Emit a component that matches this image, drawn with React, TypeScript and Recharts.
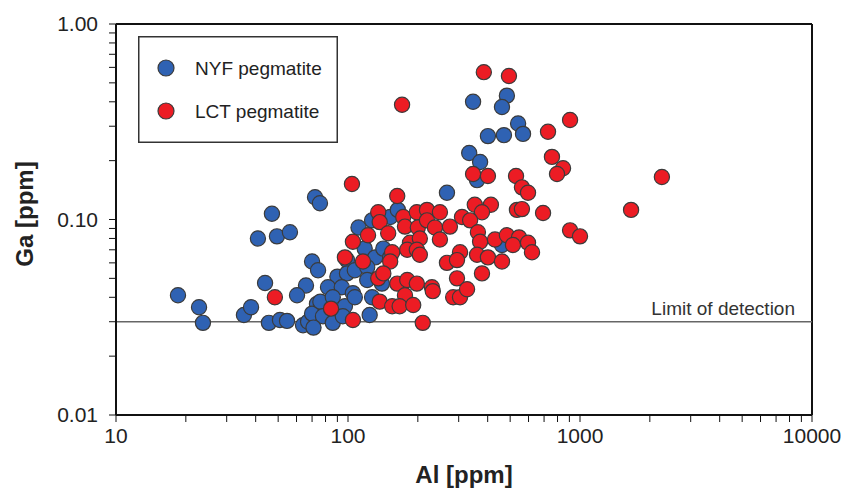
import React from "react";
import {
  ScatterChart,
  Scatter,
  XAxis,
  YAxis,
  ReferenceLine,
  Legend,
} from "recharts";

// Al [ppm] vs Ga [ppm]
const nyfAl = [
  18.5, 22.8, 23.7, 35.6, 38.2, 45.6, 50.9, 54.6, 43.9, 47.0, 40.9, 49.4, 56.2,
  72.1, 75.7, 70.0, 74.3, 65.9, 60.3, 64.0, 67.3, 73.5, 70.0, 111, 127, 152,
  164, 118, 131, 142, 152, 99, 90, 99, 107, 121, 82, 94, 105, 121, 127, 76, 86,
  97, 107, 78, 86, 95, 124, 71, 140, 267, 346, 484, 461, 541, 568, 401, 470,
  333, 371, 360, 461,
];
const nyfGa = [
  0.041, 0.0356, 0.0296, 0.0325, 0.0356, 0.0296, 0.0306, 0.0303, 0.0473, 0.107,
  0.08, 0.082, 0.086, 0.13, 0.121, 0.061, 0.055, 0.046, 0.041, 0.0288, 0.03,
  0.037, 0.033, 0.091, 0.099, 0.103, 0.112, 0.071, 0.064, 0.071, 0.064, 0.062,
  0.051, 0.053, 0.055, 0.057, 0.045, 0.045, 0.042, 0.049, 0.04, 0.038, 0.04,
  0.036, 0.04, 0.032, 0.0296, 0.032, 0.0325, 0.028, 0.047, 0.137, 0.4, 0.43,
  0.376, 0.31, 0.274, 0.267, 0.27, 0.219, 0.197, 0.159, 0.074,
];

const lctAl = [
  48.4, 104, 163, 135, 137, 173, 198, 219, 249, 310, 122, 149, 176, 200, 219,
  237, 275, 105, 185, 204, 249, 97, 155, 180, 198, 204, 304, 116, 152, 267, 295,
  135, 142, 163, 180, 198, 295, 230, 232, 176, 137, 155, 167, 191, 284, 304,
  84.5, 105, 210, 326, 171, 385, 494, 906, 728, 757, 845, 796, 346, 401, 530,
  562, 597, 352, 413, 378, 535, 562, 693, 906, 1000, 336, 363, 371, 430, 484,
  546, 514, 597, 621, 360, 401, 461, 378, 2254, 1660,
];
const lctGa = [
  0.04, 0.152, 0.132, 0.109, 0.097, 0.103, 0.109, 0.112, 0.109, 0.103, 0.083,
  0.085, 0.092, 0.091, 0.099, 0.091, 0.092, 0.077, 0.076, 0.08, 0.079, 0.064,
  0.068, 0.07, 0.07, 0.066, 0.068, 0.061, 0.061, 0.06, 0.062, 0.05, 0.053,
  0.047, 0.049, 0.047, 0.05, 0.045, 0.043, 0.041, 0.038, 0.036, 0.036, 0.0365,
  0.04, 0.04, 0.035, 0.0306, 0.0296, 0.044, 0.386, 0.567, 0.542, 0.323, 0.281,
  0.209, 0.183, 0.171, 0.171, 0.167, 0.167, 0.146, 0.137, 0.119, 0.119, 0.109,
  0.112, 0.113, 0.108, 0.088, 0.082, 0.099, 0.086, 0.077, 0.079, 0.083, 0.081,
  0.074, 0.076, 0.068, 0.066, 0.064, 0.061, 0.053, 0.165, 0.112,
];

const seriesNames = ["NYF pegmatite", "LCT pegmatite"];

const xTicks = [
  10, 20, 30, 40, 50, 60, 70, 80, 90, 100, 200, 300, 400, 500, 600, 700, 800,
  900, 1000, 2000, 3000, 4000, 5000, 6000, 7000, 8000, 9000, 10000,
];
const yTicks = [
  0.01, 0.02, 0.03, 0.04, 0.05, 0.06, 0.07, 0.08, 0.09, 0.1, 0.2, 0.3, 0.4, 0.5,
  0.6, 0.7, 0.8, 0.9, 1,
];
const xMajor = [10, 100, 1000, 10000];
const yMajor = [0.01, 0.1, 1];
const detectionLimit = 0.03;

const nyfData = nyfAl.map((al, i) => ({ al, ga: nyfGa[i] }));
const lctData = lctAl.map((al, i) => ({ al, ga: lctGa[i] }));

const BLUE = "#2f62b3";
const RED = "#ec1c24";
const FONT = "'Liberation Sans', Arial, sans-serif";

const dot = (fill: string) => (props: any) => (
  <circle
    cx={props.cx}
    cy={props.cy}
    r={7.6}
    fill={fill}
    stroke="#3b3b3b"
    strokeWidth={1.2}
  />
);

const LegendBox = (props: any) => {
  // keep series order (recharts sorts the payload by name)
  const items = [...(props.payload || [])].sort(
    (a: any, b: any) => seriesNames.indexOf(a.value) - seriesNames.indexOf(b.value)
  );
  return (
    <svg width={200} height={107} style={{ display: "block" }}>
      <rect
        x={0.75}
        y={0.75}
        width={198.5}
        height={105.5}
        fill="#fff"
        stroke="#333"
        strokeWidth={1.5}
      />
      {items.map((e: any, i: number) => (
        <g key={e.value}>
          <circle
            cx={28}
            cy={32 + i * 43}
            r={8}
            fill={e.color}
            stroke="#3b3b3b"
            strokeWidth={1.2}
          />
          <text
            x={57}
            y={32 + i * 43}
            dominantBaseline="central"
            fontSize={19}
            fill="#222"
            fontFamily={FONT}
          >
            {e.value}
          </text>
        </g>
      ))}
    </svg>
  );
};

export default function App() {
  return (
    <div
      style={{
        position: "absolute",
        left: 0,
        top: 0,
        background: "#fff",
        fontFamily: FONT,
      }}
    >
      <ScatterChart
        width={845}
        height={488}
        margin={{ top: 24, right: 33, bottom: 0, left: 0 }}
      >
        <XAxis
          dataKey="al"
          type="number"
          scale="log"
          domain={[10, 10000]}
          ticks={xTicks}
          interval={0}
          allowDataOverflow
          tickFormatter={(v) => (xMajor.includes(v) ? String(v) : "")}
          tick={{ fontSize: 21, fill: "#222" }}
          tickSize={7}
          tickMargin={6}
          tickLine={{ stroke: "#111" }}
          axisLine={{ stroke: "#111", strokeWidth: 2 }}
          height={73}
          label={(p: any) => (
            <text
              x={464}
              y={483}
              textAnchor="middle"
              fontSize={24}
              fontWeight="bold"
              fill="#222"
              fontFamily={FONT}
            >
              Al [ppm]
            </text>
          )}
        />
        <YAxis
          dataKey="ga"
          type="number"
          scale="log"
          domain={[0.01, 1]}
          ticks={yTicks}
          interval={0}
          allowDataOverflow
          tickFormatter={(v) => (yMajor.includes(v) ? v.toFixed(2) : "")}
          tick={{ fontSize: 21, fill: "#222" }}
          tickSize={7}
          tickMargin={11}
          tickLine={{ stroke: "#111" }}
          axisLine={{ stroke: "#111", strokeWidth: 2 }}
          width={116}
          label={(p: any) => (
            <text
              x={24}
              y={214}
              transform="rotate(-90 24 214)"
              textAnchor="middle"
              dominantBaseline="central"
              fontSize={24}
              fontWeight="bold"
              fill="#222"
              fontFamily={FONT}
            >
              Ga [ppm]
            </text>
          )}
        />
        <ReferenceLine y={1} stroke="#111" strokeWidth={2} />
        <ReferenceLine x={10000} stroke="#111" strokeWidth={2} />
        <ReferenceLine
          y={detectionLimit}
          stroke="#666"
          strokeWidth={1.5}
          label={(p: any) => {
            const vb = p.viewBox || {};
            return (
              <text
                x={vb.x + vb.width - 17}
                y={vb.y - 7}
                textAnchor="end"
                fontSize={19}
                fill="#333"
                fontFamily={FONT}
              >
                Limit of detection
              </text>
            );
          }}
        />
        <Legend
          layout="vertical"
          align="center"
          verticalAlign="middle"
          content={LegendBox}
          wrapperStyle={{ left: 138, top: 36, width: 200, height: 107 }}
        />
        <Scatter
          name={seriesNames[0]}
          data={nyfData}
          fill={BLUE}
          shape={dot(BLUE)}
          isAnimationActive={false}
        />
        <Scatter
          name={seriesNames[1]}
          data={lctData}
          fill={RED}
          shape={dot(RED)}
          isAnimationActive={false}
        />
      </ScatterChart>
    </div>
  );
}
